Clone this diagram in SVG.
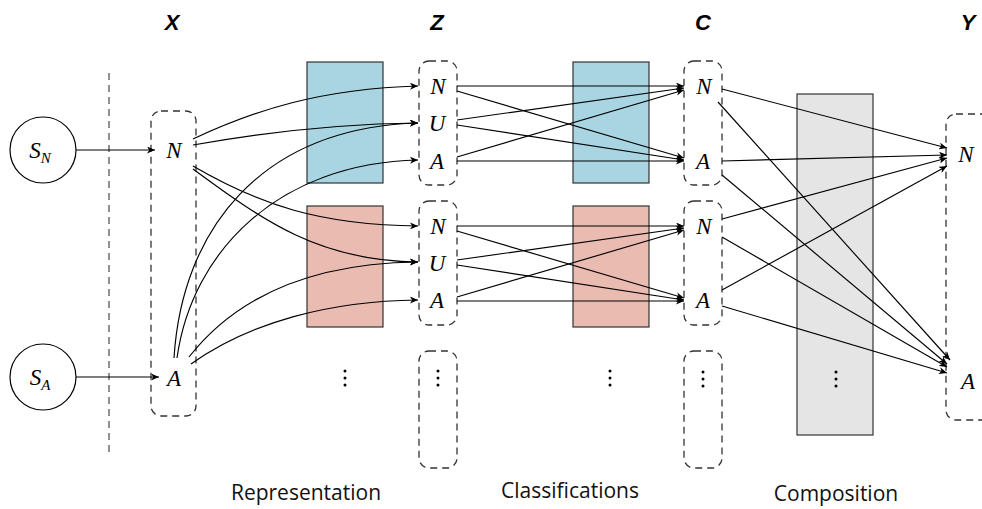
<svg xmlns="http://www.w3.org/2000/svg" width="982" height="509" viewBox="0 0 982 509">
<defs>
<style>
.hdr{font-family:"Liberation Sans",Arial,sans-serif;font-weight:bold;font-style:italic;font-size:22px;text-anchor:middle}
.lbl{font-family:"Liberation Serif","Times New Roman",serif;font-style:italic;font-size:23px;text-anchor:middle}
.cap{font-family:"Open Sans","DejaVu Sans",sans-serif;font-size:21px;text-anchor:middle;fill:#111}
.dash{fill:none;stroke:#333;stroke-width:1.3;stroke-dasharray:7 5}
.conn path,.conn line{fill:none;stroke:#000;stroke-width:1.15;marker-end:url(#ah)}
.dot{fill:#000}
</style>
<marker id="ah" markerUnits="userSpaceOnUse" markerWidth="9" markerHeight="7" refX="8" refY="3.5" orient="auto">
<path d="M0,0 L8,3.5 L0,7 L2.2,3.5 z" fill="#000"/>
</marker>
<g id="vdots"><circle cx="0" cy="-7" r="1.5"/><circle cx="0" cy="0" r="1.5"/><circle cx="0" cy="7" r="1.5"/></g>
</defs>
<rect width="982" height="509" fill="#fff"/>

<!-- headers -->
<text class="hdr" x="172" y="30">X</text>
<text class="hdr" x="437" y="30">Z</text>
<text class="hdr" x="703" y="30">C</text>
<text class="hdr" x="968" y="30">Y</text>

<!-- boundary -->
<line x1="109" y1="73" x2="109" y2="452" stroke="#555" stroke-width="1.3" stroke-dasharray="7 5"/>

<!-- sources -->
<g id="SN">
<circle cx="43" cy="150" r="33" fill="#fff" stroke="#000" stroke-width="1.2"/>
<text class="lbl" x="40" y="158" font-size="25">S<tspan font-size="15" dy="5">N</tspan></text>
</g>
<g id="SA">
<circle cx="43" cy="377" r="33" fill="#fff" stroke="#000" stroke-width="1.2"/>
<text class="lbl" x="40" y="385" font-size="25">S<tspan font-size="15" dy="5">A</tspan></text>
</g>

<!-- X column -->
<g id="X">
<rect class="dash" x="151" y="111" width="45" height="305" rx="10"/>
<text class="lbl" x="174" y="158">N</text>
<text class="lbl" x="174" y="386">A</text>
</g>

<!-- representation blocks -->
<g id="rep1"><rect x="307" y="62" width="76" height="121" fill="#a9d4e2" stroke="#333" stroke-width="1.2"/></g>
<g id="rep2"><rect x="307" y="206" width="76" height="121" fill="#eabbb1" stroke="#333" stroke-width="1.2"/></g>
<g id="repdots" class="dot"><use href="#vdots" x="345" y="378"/></g>

<!-- Z column -->
<g id="Z1">
<rect class="dash" x="419" y="61" width="38" height="124" rx="10"/>
<text class="lbl" x="438" y="94">N</text>
<text class="lbl" x="437" y="131">U</text>
<text class="lbl" x="437" y="169">A</text>
</g>
<g id="Z2">
<rect class="dash" x="419" y="201" width="38" height="124" rx="10"/>
<text class="lbl" x="438" y="234">N</text>
<text class="lbl" x="437" y="271">U</text>
<text class="lbl" x="437" y="308">A</text>
</g>
<g id="Z3">
<rect class="dash" x="419" y="351" width="38" height="117" rx="10"/>
<g class="dot"><use href="#vdots" x="438" y="378"/></g>
</g>

<!-- classification blocks -->
<g id="cls1"><rect x="573" y="62" width="76" height="121" fill="#a9d4e2" stroke="#333" stroke-width="1.2"/></g>
<g id="cls2"><rect x="573" y="206" width="76" height="121" fill="#eabbb1" stroke="#333" stroke-width="1.2"/></g>
<g id="clsdots" class="dot"><use href="#vdots" x="610" y="378"/></g>

<!-- C column -->
<g id="C1">
<rect class="dash" x="684" y="61" width="38" height="124" rx="10"/>
<text class="lbl" x="704" y="94">N</text>
<text class="lbl" x="703" y="169">A</text>
</g>
<g id="C2">
<rect class="dash" x="684" y="201" width="38" height="124" rx="10"/>
<text class="lbl" x="704" y="234">N</text>
<text class="lbl" x="703" y="308">A</text>
</g>
<g id="C3">
<rect class="dash" x="684" y="351" width="38" height="117" rx="10"/>
<g class="dot"><use href="#vdots" x="703" y="379"/></g>
</g>

<!-- composition block -->
<g id="comp">
<rect x="797" y="94" width="76" height="341" fill="#e5e5e5" stroke="#333" stroke-width="1.2"/>
<g class="dot"><use href="#vdots" x="836" y="379"/></g>
</g>

<!-- Y column -->
<g id="Y">
<rect class="dash" x="946" y="114" width="50" height="306" rx="10"/>
<text class="lbl" x="966" y="162">N</text>
<text class="lbl" x="968" y="389">A</text>
</g>

<!-- captions -->
<text class="cap" x="306" y="500">Representation</text>
<text class="cap" x="570" y="498">Classifications</text>
<text class="cap" x="836" y="501">Composition</text>

<!-- connectors -->
<g id="connectors" class="conn">
<line x1="76" y1="150" x2="155" y2="150"/>
<line x1="76" y1="377" x2="159" y2="377"/>
<!-- X to Z -->
<path d="M193,139 C255,110 320,89 418,86"/>
<path d="M193,145 C260,133 330,124 418,123"/>
<path d="M193,166 C260,205 320,225 418,226"/>
<path d="M193,169 C265,222 320,261 418,262"/>
<path d="M174,358 C182,230 260,128 418,123"/>
<path d="M177,358 C192,250 280,163 418,160"/>
<path d="M189,357 C240,292 320,263 418,262"/>
<path d="M191,364 C250,322 330,301 418,300"/>
<!-- Z1 to C1 -->
<line x1="457" y1="86" x2="684" y2="86"/>
<line x1="457" y1="91" x2="684" y2="158"/>
<line x1="457" y1="120" x2="684" y2="88"/>
<line x1="457" y1="125" x2="684" y2="160"/>
<line x1="457" y1="157" x2="684" y2="90"/>
<line x1="457" y1="161" x2="684" y2="161"/>
<!-- Z2 to C2 -->
<line x1="457" y1="226" x2="684" y2="226"/>
<line x1="457" y1="231" x2="684" y2="298"/>
<line x1="457" y1="260" x2="684" y2="228"/>
<line x1="457" y1="265" x2="684" y2="300"/>
<line x1="457" y1="297" x2="684" y2="230"/>
<line x1="457" y1="301" x2="684" y2="301"/>
<!-- C to Y -->
<line x1="722" y1="89" x2="947" y2="148"/>
<line x1="718" y1="102" x2="950" y2="360"/>
<line x1="722" y1="161" x2="947" y2="155"/>
<line x1="722" y1="175" x2="947" y2="364"/>
<line x1="722" y1="219" x2="947" y2="158"/>
<line x1="722" y1="237" x2="947" y2="367"/>
<line x1="722" y1="290" x2="947" y2="166"/>
<line x1="722" y1="306" x2="947" y2="373"/>
</g>
</svg>
